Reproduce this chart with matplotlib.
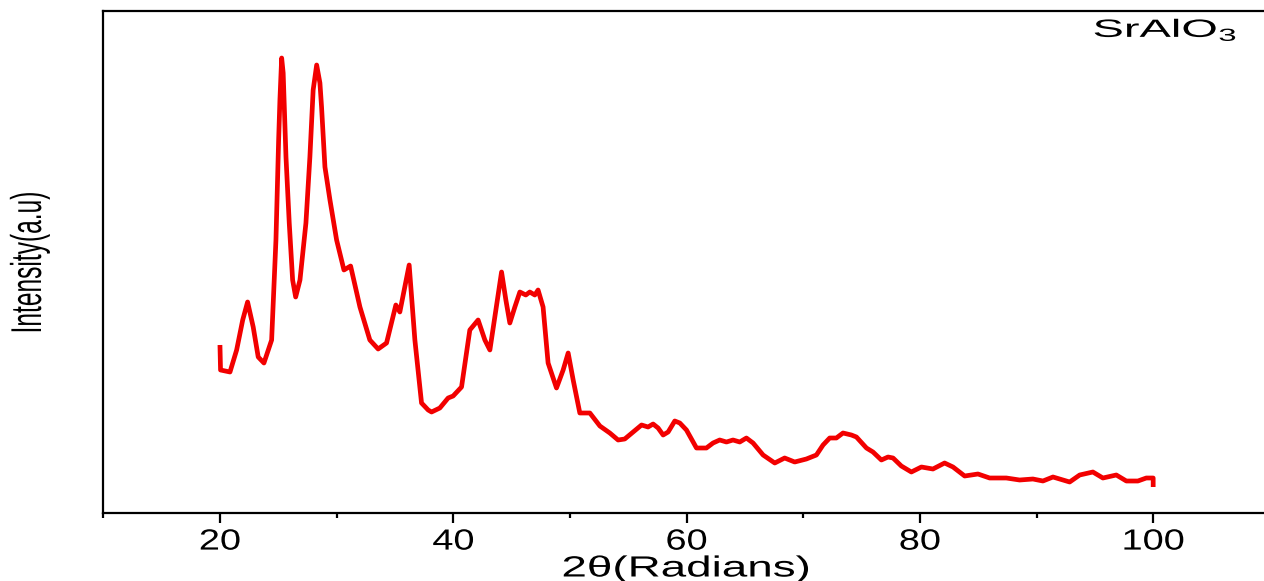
import matplotlib
matplotlib.use("Agg")
import matplotlib.pyplot as plt
from matplotlib.ticker import FixedLocator
from matplotlib.patheffects import AbstractPathEffect
from matplotlib.transforms import Affine2D

# ---- data (2θ, intensity in a.u.) ----
two_theta = [20.0, 20.05, 20.86, 21.43, 21.95, 22.37, 22.85, 23.28, 23.77, 24.43,
             24.80, 25.03, 25.14, 25.29, 25.42, 25.66, 25.94, 26.23, 26.49, 26.86,
             27.37, 27.71, 27.99, 28.29, 28.57, 28.71, 29.0, 29.43, 30.0, 30.63,
             31.2, 32.0, 32.85, 33.56, 34.28, 35.08,
             35.42, 36.22, 36.71, 37.28, 37.85, 38.14, 38.85, 39.56, 39.99, 40.71,
             41.42, 42.13, 42.71, 43.14, 43.56, 44.14, 44.51, 44.85, 45.28, 45.71,
             46.22, 46.56, 46.99, 47.27, 47.70, 48.13, 48.85, 49.42, 49.85, 50.28,
             50.85, 51.71, 52.57, 53.42, 54.13, 54.70, 55.42, 56.14, 56.70, 57.13,
             57.56, 57.99, 58.42, 58.99, 59.42, 59.99, 60.85, 61.70, 62.27, 62.84,
             63.42, 63.98, 64.56, 65.13, 65.70, 66.56, 67.56, 68.41, 69.27, 70.27,
             71.13, 71.70, 72.27, 72.84, 73.41, 74.13, 74.56, 75.42, 75.98, 76.70,
             77.27, 77.70, 78.41, 79.27, 80.13, 81.12, 82.12, 82.84, 83.84, 84.98,
             85.98, 87.41, 88.55, 89.69, 90.55, 91.41, 91.98, 92.84, 93.70, 94.83,
             95.69, 96.84, 97.70, 98.69, 99.41, 100.0, 100.0]
intensity = [168, 143, 141, 163, 193, 211, 186, 156, 150, 173,
             273, 373, 413, 455, 440, 356, 290, 233, 216, 233,
             290, 356, 423, 448, 430, 406, 346, 313, 273, 243,
             247, 206, 173, 164, 170, 208,
             201, 248, 173, 110, 103, 101, 105, 115, 117, 126,
             183, 193, 173, 163, 196, 241, 213, 190, 206, 221,
             218, 221, 218, 223, 206, 150, 125, 143, 160, 133,
             100, 100, 87, 80, 73, 74, 81, 88, 86, 89,
             85, 78, 81, 92, 90, 83, 65, 65, 70, 73,
             71, 73, 71, 75, 70, 58, 50, 55, 51, 54,
             58, 68, 75, 75, 80, 78, 76, 65, 61, 53,
             56, 55, 47, 41, 46, 44, 50, 46, 37, 39,
             35, 35, 33, 34, 32, 36, 34, 31, 38, 41,
             35, 38, 32, 32, 35, 35, 26]

major_ticks = [20, 40, 60, 80, 100]
minor_ticks = [10, 30, 50, 70, 90]
sample_label = "SrAlO$_3$"
x_label = "2θ(Radians)"
y_label = "Intensity(a.u)"


class Stretch(AbstractPathEffect):
    """Scale glyph outlines along the reading direction (text stays text)."""
    def __init__(self, sx=1.0, anchor="center"):
        super().__init__()
        self.sx = sx
        self.anchor = anchor

    def draw_path(self, renderer, gc, tpath, affine, rgbFace=None):
        ext = tpath.get_extents()
        if self.anchor == "center":
            cx = 0.5 * (ext.x0 + ext.x1)
        elif self.anchor == "left":
            cx = 0.0
        else:
            cx = ext.x1
        t = Affine2D().translate(-cx, 0).scale(self.sx, 1.0).translate(cx, 0)
        renderer.draw_path(gc, tpath, t + affine, rgbFace)


plt.rcParams['font.family'] = ['Liberation Sans', 'DejaVu Sans']
plt.rcParams['mathtext.fontset'] = 'custom'
plt.rcParams['mathtext.rm'] = 'Liberation Sans'
plt.rcParams['mathtext.it'] = 'Liberation Sans'
plt.rcParams['mathtext.default'] = 'regular'

W, H = 1264, 581
fig = plt.figure(figsize=(W / 100, H / 100), dpi=100)
ax = fig.add_axes([103.3 / W, (H - 513) / H, 1 - 103.3 / W, (513 - 11) / H])

ax.plot(two_theta, intensity, color='#f20000', lw=3.4,
        solid_joinstyle='round', solid_capstyle='butt')

ax.set_xlim(10, 109.5)
ax.set_ylim(0, 502)
ax.xaxis.set_major_locator(FixedLocator(major_ticks))
ax.xaxis.set_minor_locator(FixedLocator(minor_ticks))
ax.set_yticks([])
ax.spines['right'].set_visible(False)
for s in ['left', 'bottom', 'top']:
    ax.spines[s].set_linewidth(1.6)
ax.tick_params(axis='x', which='major', direction='out', length=7, width=1.6,
               labelsize=21, pad=3.5)
ax.tick_params(axis='x', which='minor', direction='out', length=3.8, width=1.6)
for lab in ax.get_xticklabels():
    lab.set_path_effects([Stretch(1.3)])

xl = ax.set_xlabel(x_label, fontsize=21, va='baseline')
ax.xaxis.set_label_coords((686 - 103.3) / 1160.7, -(576.5 - 513) / 502)
xl.set_path_effects([Stretch(1.57)])

fig.text(30 / W, (H - 263) / H, y_label, rotation=90, fontsize=31,
         ha='center', va='center', path_effects=[Stretch(0.57)])

ax.text(94.8, 513 - 37, sample_label, fontsize=18, va='baseline', ha='left',
        path_effects=[Stretch(1.88, anchor="left")])

fig.savefig("out.png", dpi=100)
